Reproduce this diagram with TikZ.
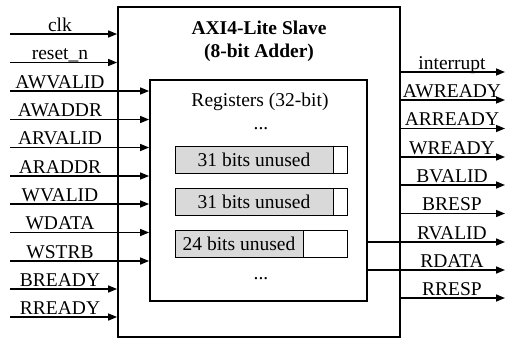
\documentclass[tikz,border=0pt]{standalone}
\usepackage{fontspec}
\setmainfont{Liberation Serif}
\usetikzlibrary{arrows.meta}

\begin{document}
\begin{tikzpicture}[
        x=1pt, y=-1pt,
        font=\fontsize{19.5}{23}\selectfont,
        blk/.style={draw, line width=1.8pt, inner sep=0pt},
        reg/.style={draw, line width=1pt, minimum height=27pt, inner sep=0pt},
        unused/.style={reg, fill=gray!30, anchor=west},
        sig/.style={line width=1.5pt, -{Triangle[length=9pt, width=7pt]}},
        inlbl/.style={anchor=base, xshift=50pt, yshift=3pt},
        outlbl/.style={anchor=base, xshift=-53pt, yshift=3pt}
    ]
    \useasboundingbox (0,0) rectangle (505,341);

    % slave block and register file
    \node[blk, minimum width=282pt, minimum height=330pt] (slave) at (259,172) {};
    \node[font=\fontsize{19.5}{23}\selectfont\bfseries, align=center]
        (title) at (259,41.5) {AXI4-Lite Slave\\(8-bit Adder)};

    \node[blk, minimum width=217pt, minimum height=221pt] (regs) at (258.5,190.5) {};
    \node (regtitle) at (260,102) {Registers (32-bit)};
    \node (dotstop) at (261,129) {...};

    \node[reg, minimum width=172pt] (r1) at (261,159.5) {};
    \node[unused, minimum width=158pt] (u1) at (r1.west) {31 bits unused};

    \node[reg, minimum width=172pt] (r2) at (261,202) {};
    \node[unused, minimum width=158pt] (u2) at (r2.west) {31 bits unused};

    \node[reg, minimum width=172pt] (r3) at (261,244) {};
    \node[unused, minimum width=128pt] (u3) at (r3.west) {24 bits unused};

    \node (dotsbot) at (261,279) {...};

    % inputs
    \coordinate (clk) at (10,34);
    \draw[sig] (clk) -- (clk -| slave.west);
    \node[inlbl] at (clk) {clk};
    \coordinate (rstn) at (10,62.5);
    \draw[sig] (rstn) -- (rstn -| slave.west);
    \node[inlbl] at (rstn) {reset\_n};
    \coordinate (awvalid) at (10,91);
    \draw[sig] (awvalid) -- (awvalid -| regs.west);
    \node[inlbl] at (awvalid) {AWVALID};
    \coordinate (awaddr) at (10,119.5);
    \draw[sig] (awaddr) -- (awaddr -| regs.west);
    \node[inlbl] at (awaddr) {AWADDR};
    \coordinate (arvalid) at (10,147.5);
    \draw[sig] (arvalid) -- (arvalid -| regs.west);
    \node[inlbl] at (arvalid) {ARVALID};
    \coordinate (araddr) at (10,176);
    \draw[sig] (araddr) -- (araddr -| regs.west);
    \node[inlbl] at (araddr) {ARADDR};
    \coordinate (wvalid) at (10,204);
    \draw[sig] (wvalid) -- (wvalid -| regs.west);
    \node[inlbl] at (wvalid) {WVALID};
    \coordinate (wdata) at (10,232.5);
    \draw[sig] (wdata) -- (wdata -| regs.west);
    \node[inlbl] at (wdata) {WDATA};
    \coordinate (wstrb) at (10,261);
    \draw[sig] (wstrb) -- (wstrb -| regs.west);
    \node[inlbl] at (wstrb) {WSTRB};
    \coordinate (bready) at (10,289);
    \draw[sig] (bready) -- (bready -| slave.west);
    \node[inlbl] at (bready) {BREADY};
    \coordinate (rready) at (10,317);
    \draw[sig] (rready) -- (rready -| slave.west);
    \node[inlbl] at (rready) {RREADY};

    % outputs
    \coordinate (irq) at (505,72);
    \draw[sig] (irq -| slave.east) -- (irq);
    \node[outlbl] at (irq) {interrupt};
    \coordinate (awready) at (505,100);
    \draw[sig] (awready -| slave.east) -- (awready);
    \node[outlbl] at (awready) {AWREADY};
    \coordinate (arready) at (505,128.5);
    \draw[sig] (arready -| slave.east) -- (arready);
    \node[outlbl] at (arready) {ARREADY};
    \coordinate (wready) at (505,157);
    \draw[sig] (wready -| slave.east) -- (wready);
    \node[outlbl] at (wready) {WREADY};
    \coordinate (bvalid) at (505,185);
    \draw[sig] (bvalid -| slave.east) -- (bvalid);
    \node[outlbl] at (bvalid) {BVALID};
    \coordinate (bresp) at (505,213.5);
    \draw[sig] (bresp -| slave.east) -- (bresp);
    \node[outlbl] at (bresp) {BRESP};
    \coordinate (rvalid) at (505,242);
    \draw[sig] (rvalid -| regs.east) -- (rvalid);
    \node[outlbl] at (rvalid) {RVALID};
    \coordinate (rdata) at (505,270);
    \draw[sig] (rdata -| regs.east) -- (rdata);
    \node[outlbl] at (rdata) {RDATA};
    \coordinate (rresp) at (505,298);
    \draw[sig] (rresp -| slave.east) -- (rresp);
    \node[outlbl] at (rresp) {RRESP};
\end{tikzpicture}
\end{document}
